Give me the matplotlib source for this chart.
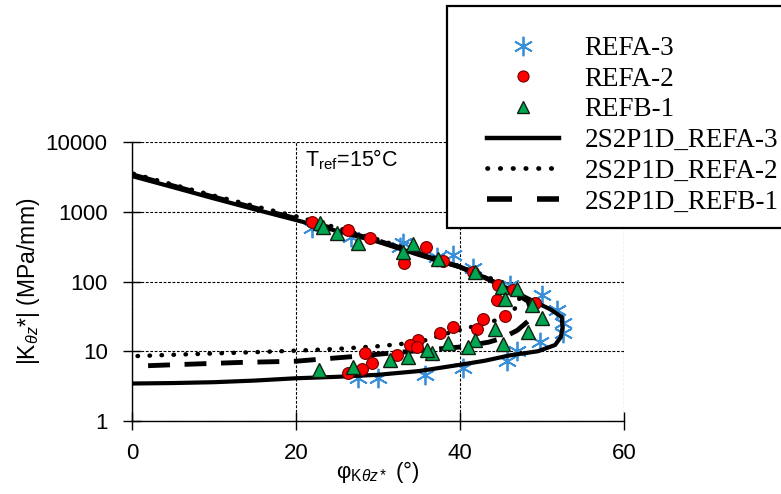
import matplotlib
matplotlib.use("Agg")
import matplotlib.pyplot as plt
from matplotlib.lines import Line2D
from matplotlib.patches import Rectangle

plt.rcParams['font.family'] = ['Liberation Sans', 'DejaVu Sans']
plt.rcParams['mathtext.fontset'] = 'custom'
plt.rcParams['mathtext.rm'] = 'Liberation Sans'
plt.rcParams['mathtext.it'] = 'Liberation Sans:italic'

# measured data (phase angle in deg, |K*| in MPa/mm)
phi_a3 = [22.0, 26.7, 32.7, 33.0, 37.2, 39.1, 41.6, 46.1, 50.0, 51.8, 52.6, 52.6,
          49.8, 47.0, 45.7, 40.4, 35.7, 30.0, 27.6]
k_a3 = [590, 430, 310, 360, 225, 240, 155, 89, 65, 39, 25, 18,
        13.5, 10, 7.2, 5.8, 4.6, 4.2, 4.2]

phi_a2 = [22.0, 26.3, 29.0, 33.2, 35.8, 37.9, 41.6, 44.6, 46.5, 44.5, 49.1, 45.5,
          42.8, 42.1, 39.1, 37.6, 34.9, 33.9, 34.8, 32.3, 28.4, 29.3, 28.0, 26.3]
k_a2 = [705, 550, 415, 185, 315, 200, 138, 89, 75, 54, 49, 32,
        29, 21, 22, 18, 14.5, 12.4, 11.5, 8.9, 9.5, 6.8, 5.6, 4.9]

phi_b1 = [22.9, 23.3, 25.0, 27.5, 33.0, 34.3, 37.3, 41.8, 45.1, 47.0, 45.5, 48.8,
          50.0, 48.3, 44.3, 45.2, 41.8, 41.0, 38.5, 36.6, 36.0, 33.6, 31.5, 27.0, 22.8]
k_b1 = [700, 610, 500, 355, 265, 340, 210, 138, 83, 78, 57, 46,
        30, 19, 21, 12.7, 14.5, 11.5, 13.2, 9.4, 10.4, 8.3, 7.4, 5.9, 5.4]

# 2S2P1D model curves
phi_m_a3 = [0.2, 5, 10, 15, 20, 25, 30, 35, 40, 43, 46, 49, 51, 52.4, 52.5, 52.3,
            51.6, 49.5, 46, 43, 40, 35, 30, 25, 20, 15, 10, 5, 0.2]
k_m_a3 = [3200, 2250, 1550, 1080, 760, 530, 370, 240, 160, 115, 78, 52, 40, 31, 22, 16,
          12.3, 10, 8.7, 7.3, 6.4, 5.2, 4.6, 4.3, 4.1, 3.8, 3.6, 3.5, 3.45]

phi_m_a2 = [0.2, 5, 10, 15, 20, 25, 30, 35, 40, 44, 46, 47.2, 47.3, 46.5, 44.5, 41.2,
            38.4, 35, 30, 25, 20, 15, 10, 5, 0.2]
k_m_a2 = [3500, 2450, 1700, 1200, 860, 590, 400, 260, 165, 108, 80, 60, 48, 39, 28, 22,
          18, 13.5, 11.8, 10.8, 10.2, 9.7, 9.3, 8.9, 8.5]

phi_m_b1 = [0.2, 5, 10, 15, 20, 25, 30, 35, 40, 43, 46, 48.3, 48.8, 48.3, 47, 45.2,
            43.5, 40, 35, 31.5, 27, 23, 20, 13, 5, 0.2]
k_m_b1 = [3350, 2350, 1620, 1130, 800, 555, 385, 248, 162, 114, 77, 52, 35, 27, 20, 15.5,
          13.5, 11.5, 10.2, 9.4, 8.4, 7.7, 7.2, 6.9, 6.4, 6.1]

fig = plt.figure(figsize=(7.81, 4.94), dpi=100)
ax = fig.add_axes([132/781, 1-421/494, (624-132)/781, (421-142)/494])

blue = '#3a8fd9'
ax.plot(phi_a3, k_a3, ls='none', marker=(6, 2, 0), ms=14, mew=1.3, color=blue, zorder=3)
ax.plot(phi_m_a3, k_m_a3, color='black', lw=3, zorder=4)
ax.plot(phi_m_a2, k_m_a2, color='black', lw=3.2, ls=(0, (0.1, 2.6)),
        dash_capstyle='round', zorder=4)
ax.plot(phi_m_b1, k_m_b1, color='black', lw=3.5, ls=(0, (4.5, 3)), zorder=4)
ax.plot(phi_a2, k_a2, ls='none', marker='o', ms=8.5, mfc='#ff0000', mec='#700000',
        mew=0.8, zorder=5)
ax.plot(phi_b1, k_b1, ls='none', marker='^', ms=10, mfc='#00a651', mec='#102010',
        mew=1.0, zorder=6)

ax.set_yscale('log')
ax.set_xlim(0, 60)
ax.set_ylim(1, 10000)
ax.set_xticks([0, 20, 40, 60])
ax.set_yticks([1, 10, 100, 1000, 10000])
ax.set_yticklabels(['1', '10', '100', '1000', '10000'])
ax.minorticks_off()
ax.grid(True, color='black', ls=(0, (2.5, 1.5)), lw=0.8)
for s in ['top', 'right']:
    ax.spines[s].set_visible(False)
for s in ['left', 'bottom']:
    ax.spines[s].set_linewidth(1.0)
ax.tick_params(axis='both', direction='inout', length=13, width=1.0, labelsize=16)
ax.tick_params(axis='y', pad=11)
ax.tick_params(axis='x', pad=9)

ax.set_ylabel(r'|K$_{\theta z}$*| (MPa/mm)', fontsize=16.5, labelpad=3)
ax.set_xlabel(r'φ$_{\mathrm{K}\theta z*}$ (°)', fontsize=16, labelpad=-3)
ax.text(21.1, 5500, r'T$_{\mathrm{ref}}$=15°C', fontsize=15.5, va='center', ha='left')

# legend with a hand-placed box
fig.patches.append(Rectangle((447/781, 1-228/494), 350/781, 222/494, transform=fig.transFigure,
                             facecolor='white', edgecolor='black', lw=1.6, zorder=4))
handles = [
    Line2D([], [], ls='none', marker=(6, 2, 0), ms=14, mew=1.3, color=blue),
    Line2D([], [], ls='none', marker='o', ms=8, mfc='#ff0000', mec='#700000', mew=0.8),
    Line2D([], [], ls='none', marker='^', ms=9, mfc='#00a651', mec='#102010', mew=1.0),
    Line2D([], [], color='black', lw=3.2),
    Line2D([], [], color='black', lw=3.4, ls=(0, (0.1, 2.6)), dash_capstyle='round'),
    Line2D([], [], color='black', lw=4, ls=(0, (4.5, 4.5))),
]
labels = ['REFA-3', 'REFA-2', 'REFB-1', '2S2P1D_REFA-3', '2S2P1D_REFA-2', '2S2P1D_REFB-1']
fig.legend(handles, labels, loc='upper left', bbox_to_anchor=(487/781, 1-36/494),
           frameon=False, borderpad=0, borderaxespad=0, handlelength=2.65,
           handletextpad=0.95, labelspacing=0.21,
           prop={'family': 'Liberation Serif', 'size': 19.5})

fig.savefig('out.png', dpi=100)
